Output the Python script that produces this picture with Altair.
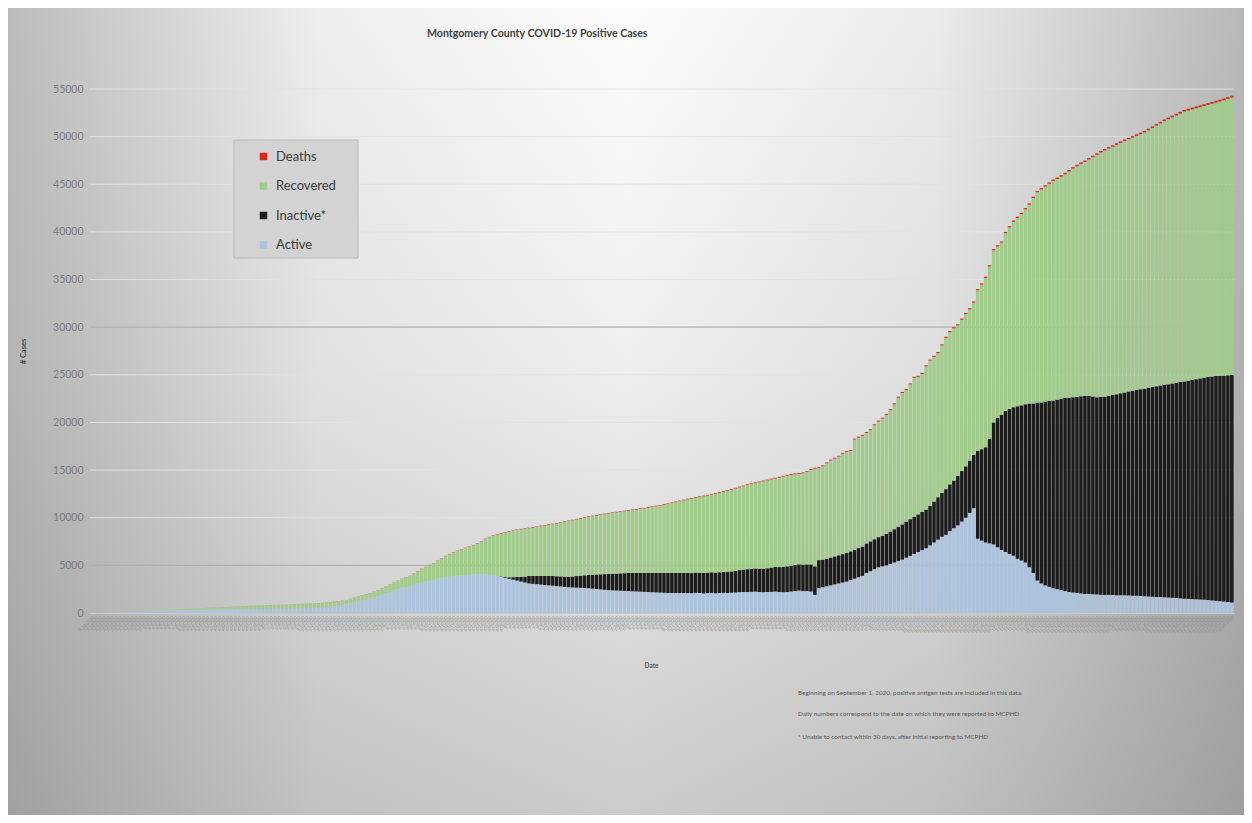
import altair as alt
import pandas as pd

N = 288
DATES = [d.strftime("%-m/%-d/%Y") for d in pd.date_range("2020-03-16", periods=N, freq="D")]

# Total positive cases (top of each stacked bar)
TOTAL = [
    10, 15, 20, 30, 45, 60, 75, 95, 115, 140,
    160, 180, 200, 220, 240, 260, 275, 295, 315, 330,
    350, 370, 390, 410, 430, 450, 470, 490, 510, 530,
    550, 570, 590, 610, 630, 650, 670, 690, 710, 730,
    750, 765, 780, 795, 815, 830, 845, 860, 875, 890,
    900, 920, 940, 960, 980, 1000, 1020, 1050, 1080, 1110,
    1150, 1200, 1250, 1320, 1400, 1500, 1620, 1750, 1880, 1990,
    2100, 2250, 2400, 2600, 2800, 3000, 3200, 3400, 3600, 3750,
    3900, 4150, 4400, 4650, 4850, 5050, 5250, 5500, 5750, 6000,
    6200, 6400, 6550, 6700, 6850, 7000, 7150, 7350, 7550, 7800,
    8000, 8150, 8300, 8400, 8500, 8600, 8680, 8760, 8830, 8900,
    8950, 9020, 9100, 9170, 9240, 9300, 9380, 9460, 9540, 9620,
    9700, 9790, 9880, 9970, 10060, 10150, 10220, 10290, 10360, 10430,
    10500, 10560, 10620, 10680, 10740, 10800, 10860, 10920, 10980, 11040,
    11100, 11180, 11260, 11340, 11420, 11500, 11600, 11700, 11800, 11900,
    12000, 12080, 12160, 12240, 12320, 12400, 12500, 12600, 12700, 12800,
    12900, 13020, 13140, 13260, 13380, 13500, 13600, 13700, 13800, 13900,
    14000, 14100, 14200, 14300, 14400, 14500, 14580, 14650, 14700, 14750,
    14900, 15100, 15250, 15300, 15500, 15800, 16100, 16300, 16500, 16800,
    17000, 17100, 18300, 18500, 18700, 19000, 19300, 19800, 20200, 20500,
    20900, 21400, 22000, 22700, 23200, 23500, 24100, 24800, 24900, 25200,
    26000, 26600, 27000, 27400, 28200, 29000, 29600, 30000, 30300, 30900,
    31500, 32000, 32700, 34000, 34600, 35300, 36500, 38200, 38600, 39000,
    40000, 40600, 41200, 41600, 42000, 42500, 43000, 43700, 44300, 44600,
    44900, 45200, 45500, 45700, 45950, 46200, 46500, 46800, 47050, 47300,
    47500, 47750, 48000, 48250, 48500, 48700, 48900, 49100, 49300, 49500,
    49700, 49880, 50060, 50240, 50420, 50600, 50840, 51080, 51320, 51560,
    51800, 52000, 52200, 52400, 52600, 52800, 52920, 53040, 53160, 53280,
    53400, 53520, 53640, 53760, 53880, 54000, 54150, 54300,
]

ACTIVE = [
    10, 15, 20, 28, 40, 55, 65, 85, 100, 120,
    140, 155, 170, 185, 200, 215, 225, 240, 255, 265,
    280, 290, 300, 310, 320, 330, 340, 350, 360, 370,
    380, 385, 390, 395, 398, 400, 405, 410, 415, 418,
    420, 420, 422, 425, 428, 430, 432, 435, 438, 440,
    450, 455, 460, 470, 480, 500, 520, 550, 580, 610,
    650, 690, 750, 820, 900, 1000, 1100, 1200, 1320, 1400,
    1500, 1620, 1750, 1900, 2050, 2200, 2350, 2500, 2650, 2720,
    2800, 2950, 3100, 3200, 3300, 3400, 3480, 3600, 3680, 3750,
    3800, 3850, 3900, 3940, 3970, 4000, 4050, 4100, 4080, 4050,
    4000, 3950, 3880, 3800, 3700, 3600, 3500, 3400, 3300, 3200,
    3100, 3060, 3020, 2980, 2940, 2900, 2860, 2820, 2780, 2740,
    2700, 2680, 2660, 2640, 2620, 2600, 2560, 2520, 2480, 2440,
    2400, 2380, 2360, 2340, 2320, 2300, 2280, 2260, 2240, 2220,
    2200, 2180, 2160, 2140, 2120, 2100, 2100, 2100, 2100, 2100,
    2100, 2080, 2120, 2100, 2060, 2090, 2110, 2080, 2100, 2120,
    2100, 2130, 2150, 2180, 2200, 2200, 2220, 2240, 2200, 2180,
    2200, 2220, 2250, 2200, 2180, 2200, 2250, 2300, 2350, 2300,
    2300, 2250, 1900, 2600, 2700, 2800, 2900, 3000, 3100, 3200,
    3300, 3450, 3600, 3750, 3900, 4200, 4400, 4600, 4800, 4900,
    5000, 5150, 5300, 5450, 5600, 5800, 6000, 6200, 6400, 6600,
    6800, 7100, 7400, 7700, 8000, 8200, 8600, 8900, 9200, 9600,
    10000, 10500, 11000, 7800, 7600, 7400, 7300, 7200, 6900, 6600,
    6400, 6200, 6000, 5700, 5500, 5300, 4800, 4200, 3400, 3100,
    2900, 2750, 2600, 2500, 2400, 2300, 2200, 2150, 2100, 2050,
    2000, 2000, 1980, 1950, 1920, 1900, 1900, 1880, 1870, 1860,
    1850, 1840, 1820, 1800, 1780, 1750, 1730, 1710, 1690, 1670,
    1650, 1620, 1600, 1570, 1540, 1500, 1480, 1460, 1440, 1420,
    1400, 1360, 1320, 1280, 1240, 1200, 1150, 1100,
]

INACTIVE = [0] * 103 + [40, 80] + [150, 260, 380, 500, 620] + [
    800, 840, 880, 920, 960, 1000, 1020, 1040, 1060, 1080,
    1100, 1160, 1220, 1280, 1340, 1400, 1460, 1520, 1580, 1640,
    1700, 1740, 1780, 1820, 1860, 1900, 1920, 1940, 1960, 1980,
    2000, 2020, 2040, 2060, 2080, 2100, 2100, 2100, 2100, 2100,
    2100, 2110, 2120, 2130, 2140, 2150, 2160, 2170, 2180, 2190,
    2200, 2240, 2280, 2320, 2360, 2400, 2420, 2440, 2460, 2480,
    2500, 2540, 2580, 2620, 2660, 2700, 2720, 2740, 2760, 2780,
    2800, 2850, 3000, 2950, 2900, 2900, 2920, 2940, 2960, 2980,
    3000, 3020, 3040, 3060, 3080, 3100, 3120, 3140, 3160, 3200,
    3300, 3400, 3500, 3600, 3700, 3800, 3850, 3900, 3950, 4000,
    4050, 4150, 4300, 4450, 4600, 4800, 4900, 5000, 5200, 5300,
    5400, 5500, 5600, 9200, 9600, 10000, 11000, 12800, 13600, 14200,
    14800, 15200, 15600, 16000, 16300, 16600, 17200, 17800, 18700, 19000,
    19300, 19500, 19700, 19900, 20100, 20300, 20400, 20500, 20600, 20700,
    20800, 20800, 20750, 20700, 20750, 20800, 20900, 21000, 21100, 21200,
    21300, 21400, 21500, 21600, 21700, 21800, 21900, 22000, 22100, 22200,
    22300, 22400, 22500, 22600, 22700, 22800, 22900, 23000, 23100, 23200,
    23300, 23400, 23500, 23600, 23650, 23700, 23800, 23900,
]

DEATHS = [
    0, 0, 0, 0, 0, 0, 1, 1, 1, 1,
    1, 1, 2, 2, 2, 2, 2, 3, 3, 3,
    3, 3, 4, 4, 4, 4, 4, 5, 5, 5,
    5, 5, 6, 6, 6, 6, 6, 7, 7, 7,
    7, 7, 8, 8, 8, 8, 8, 8, 9, 9,
    9, 9, 9, 9, 10, 10, 10, 10, 10, 10,
    11, 11, 11, 12, 12, 12, 13, 13, 13, 14,
    14, 15, 15, 16, 16, 17, 18, 18, 19, 20,
    21, 22, 23, 24, 25, 26, 27, 28, 29, 30,
    31, 32, 33, 34, 35, 36, 37, 38, 39, 40,
    41, 42, 43, 44, 45, 46, 47, 48, 49, 50,
    51, 52, 53, 54, 54, 55, 55, 56, 56, 57,
    57, 58, 58, 59, 59, 60, 60, 61, 61, 62,
    62, 63, 63, 64, 64, 65, 65, 66, 66, 67,
    67, 68, 68, 69, 69, 70, 70, 71, 71, 72,
    72, 73, 73, 74, 74, 75, 75, 76, 76, 77,
    77, 78, 78, 79, 79, 80, 80, 81, 81, 82,
    82, 83, 83, 84, 84, 85, 85, 86, 86, 87,
    87, 88, 88, 89, 89, 90, 90, 91, 91, 92,
    93, 94, 95, 96, 97, 98, 99, 100, 101, 102,
    103, 104, 105, 106, 107, 108, 109, 110, 111, 112,
    113, 114, 115, 116, 117, 118, 119, 120, 121, 122,
    123, 124, 125, 126, 127, 128, 129, 130, 131, 132,
    133, 134, 135, 136, 137, 138, 139, 140, 141, 142,
    143, 144, 145, 146, 147, 148, 149, 150, 151, 152,
    153, 154, 155, 156, 157, 158, 159, 160, 161, 162,
    163, 164, 165, 166, 167, 168, 169, 170, 171, 172,
    173, 174, 175, 176, 177, 178, 179, 180, 181, 182,
    183, 184, 185, 186, 187, 188, 189, 190,
]

SERIES = ["Deaths", "Recovered", "Inactive*", "Active"]
COLORS = ["#d42a1e", "#a1cb8b", "#1c1c1c", "#adc3dc"]
Y_TICKS = [0, 5000, 10000, 15000, 20000, 25000, 30000, 35000, 40000, 45000, 50000, 55000]
GRID_FAINT = [10000, 15000, 20000, 25000, 35000, 40000, 45000, 50000, 55000]
GRID_DARK = [5000, 30000]

TITLE = "Montgomery County COVID-19 Positive Cases"
NOTES = [
    "Beginning on September 1, 2020, positive antigen tests are included in this data.",
    "Daily numbers correspond to the date on which they were reported to MCPHD",
    "* Unable to contact within 30 days, after initial reporting to MCPHD",
]

FONT = "Lato"
W, H = 1144, 524

rows = []
for i, d in enumerate(DATES):
    a, ina, de = ACTIVE[i], INACTIVE[i], DEATHS[i]
    rec = max(TOTAL[i] - a - ina - de, 0)
    rows.append({"date": d, "series": "Active", "value": a, "ord": 0})
    rows.append({"date": d, "series": "Inactive*", "value": ina, "ord": 1})
    rows.append({"date": d, "series": "Recovered", "value": rec, "ord": 2})
    rows.append({"date": d, "series": "Deaths", "value": de, "ord": 3})
df = pd.DataFrame(rows)

one = pd.DataFrame({"k": [0]})

# background (whole chart) gradients
bg_base = alt.Chart(one).mark_rect(
    fill=alt.LinearGradient(
        gradient="linear", x1=0, y1=0, x2=0, y2=1,
        stops=[alt.GradientStop(offset=0, color="#fcfcfc"),
               alt.GradientStop(offset=0.45, color="#eeeeee"),
               alt.GradientStop(offset=1, color="#cbcbcb")],
    )
).encode(x=alt.value(-82), x2=alt.value(1154), y=alt.value(-81), y2=alt.value(726))

bg_side = alt.Chart(one).mark_rect(
    fill=alt.LinearGradient(
        gradient="linear", x1=0, y1=0, x2=1, y2=0,
        stops=[alt.GradientStop(offset=0, color="rgba(110,110,110,0.45)"),
               alt.GradientStop(offset=0.25, color="rgba(110,110,110,0.10)"),
               alt.GradientStop(offset=0.5, color="rgba(110,110,110,0.0)"),
               alt.GradientStop(offset=0.75, color="rgba(110,110,110,0.12)"),
               alt.GradientStop(offset=1, color="rgba(110,110,110,0.48)")],
    )
).encode(x=alt.value(-82), x2=alt.value(1154), y=alt.value(-81), y2=alt.value(726))

grid_faint = alt.Chart(pd.DataFrame({"v": GRID_FAINT})).mark_rule(
    color="#e2e2e2", strokeWidth=1
).encode(y=alt.Y("v:Q"), x=alt.value(0), x2=alt.value(W))

grid_dark = alt.Chart(pd.DataFrame({"v": GRID_DARK})).mark_rule(
    color="#b0b0b0", strokeWidth=1.2
).encode(y=alt.Y("v:Q"), x=alt.value(0), x2=alt.value(W))

legend_box = alt.Chart(one).mark_rect(
    fill="#d3d3d3", stroke="#b9b9b9", strokeWidth=1
).encode(x=alt.value(144), x2=alt.value(268), y=alt.value(51), y2=alt.value(169))

bars = alt.Chart(df).mark_bar().encode(
    x=alt.X(
        "date:N", sort=DATES,
        scale=alt.Scale(paddingInner=0.12, paddingOuter=0.1),
        axis=alt.Axis(
            title="Date", labelAngle=-45, labelFontSize=4, labelColor="#8a8a8a",
            labelOverlap=False, labelPadding=2, ticks=False,
            domain=True, domainColor="#c8c8c8", labelFont=FONT,
            titleFont=FONT, titleFontSize=6.5, titleFontWeight="bold", titleColor="#555555",
            titleX=561, titleY=52, titleBaseline="middle", zindex=1,
        ),
    ),
    y=alt.Y(
        "value:Q", stack="zero",
        scale=alt.Scale(domain=[0, 55000], nice=False),
        axis=alt.Axis(
            values=Y_TICKS, format="d", grid=False, ticks=False, domain=False,
            labelFont=FONT, labelFontSize=10.5, labelColor="#7a7a7a", labelPadding=7,
            title="# Cases", titleFont=FONT, titleFontSize=7.5, titleFontWeight="bold",
            titleColor="#444444", titleX=-67, titleY=262, titleAngle=-90,
            titleBaseline="middle", zindex=1,
        ),
    ),
    color=alt.Color(
        "series:N",
        scale=alt.Scale(domain=SERIES, range=COLORS),
        legend=alt.Legend(
            title=None, orient="none", legendX=167, legendY=61,
            symbolType="square", symbolSize=56, symbolStrokeWidth=0,
            labelFont=FONT, labelFontSize=13, labelColor="#3a3a3a",
            labelOffset=6, rowPadding=15.5, padding=0,
        ),
    ),
    order=alt.Order("ord:Q", sort="ascending"),
)

title_txt = alt.Chart(one).mark_text(
    text=TITLE, font=FONT, fontSize=10.6, fontWeight="bold", color="#404040",
    align="left", baseline="middle",
).encode(x=alt.value(337), y=alt.value(-55))

note_layers = []
for j, (line, yy) in enumerate(zip(NOTES, [604, 625, 648])):
    note_layers.append(
        alt.Chart(one).mark_text(
            text=line, font=FONT, fontSize=6.4, color="#555555",
            align="left", baseline="middle",
        ).encode(x=alt.value(708), y=alt.value(yy))
    )

chart = alt.layer(
    bg_base, bg_side, grid_faint, grid_dark, legend_box, bars, title_txt, *note_layers
).properties(
    width=W, height=H, padding=0
).configure_view(stroke=None).configure(background="#ffffff")

chart.save("out.html", embed_options={"renderer": "svg", "actions": False})
